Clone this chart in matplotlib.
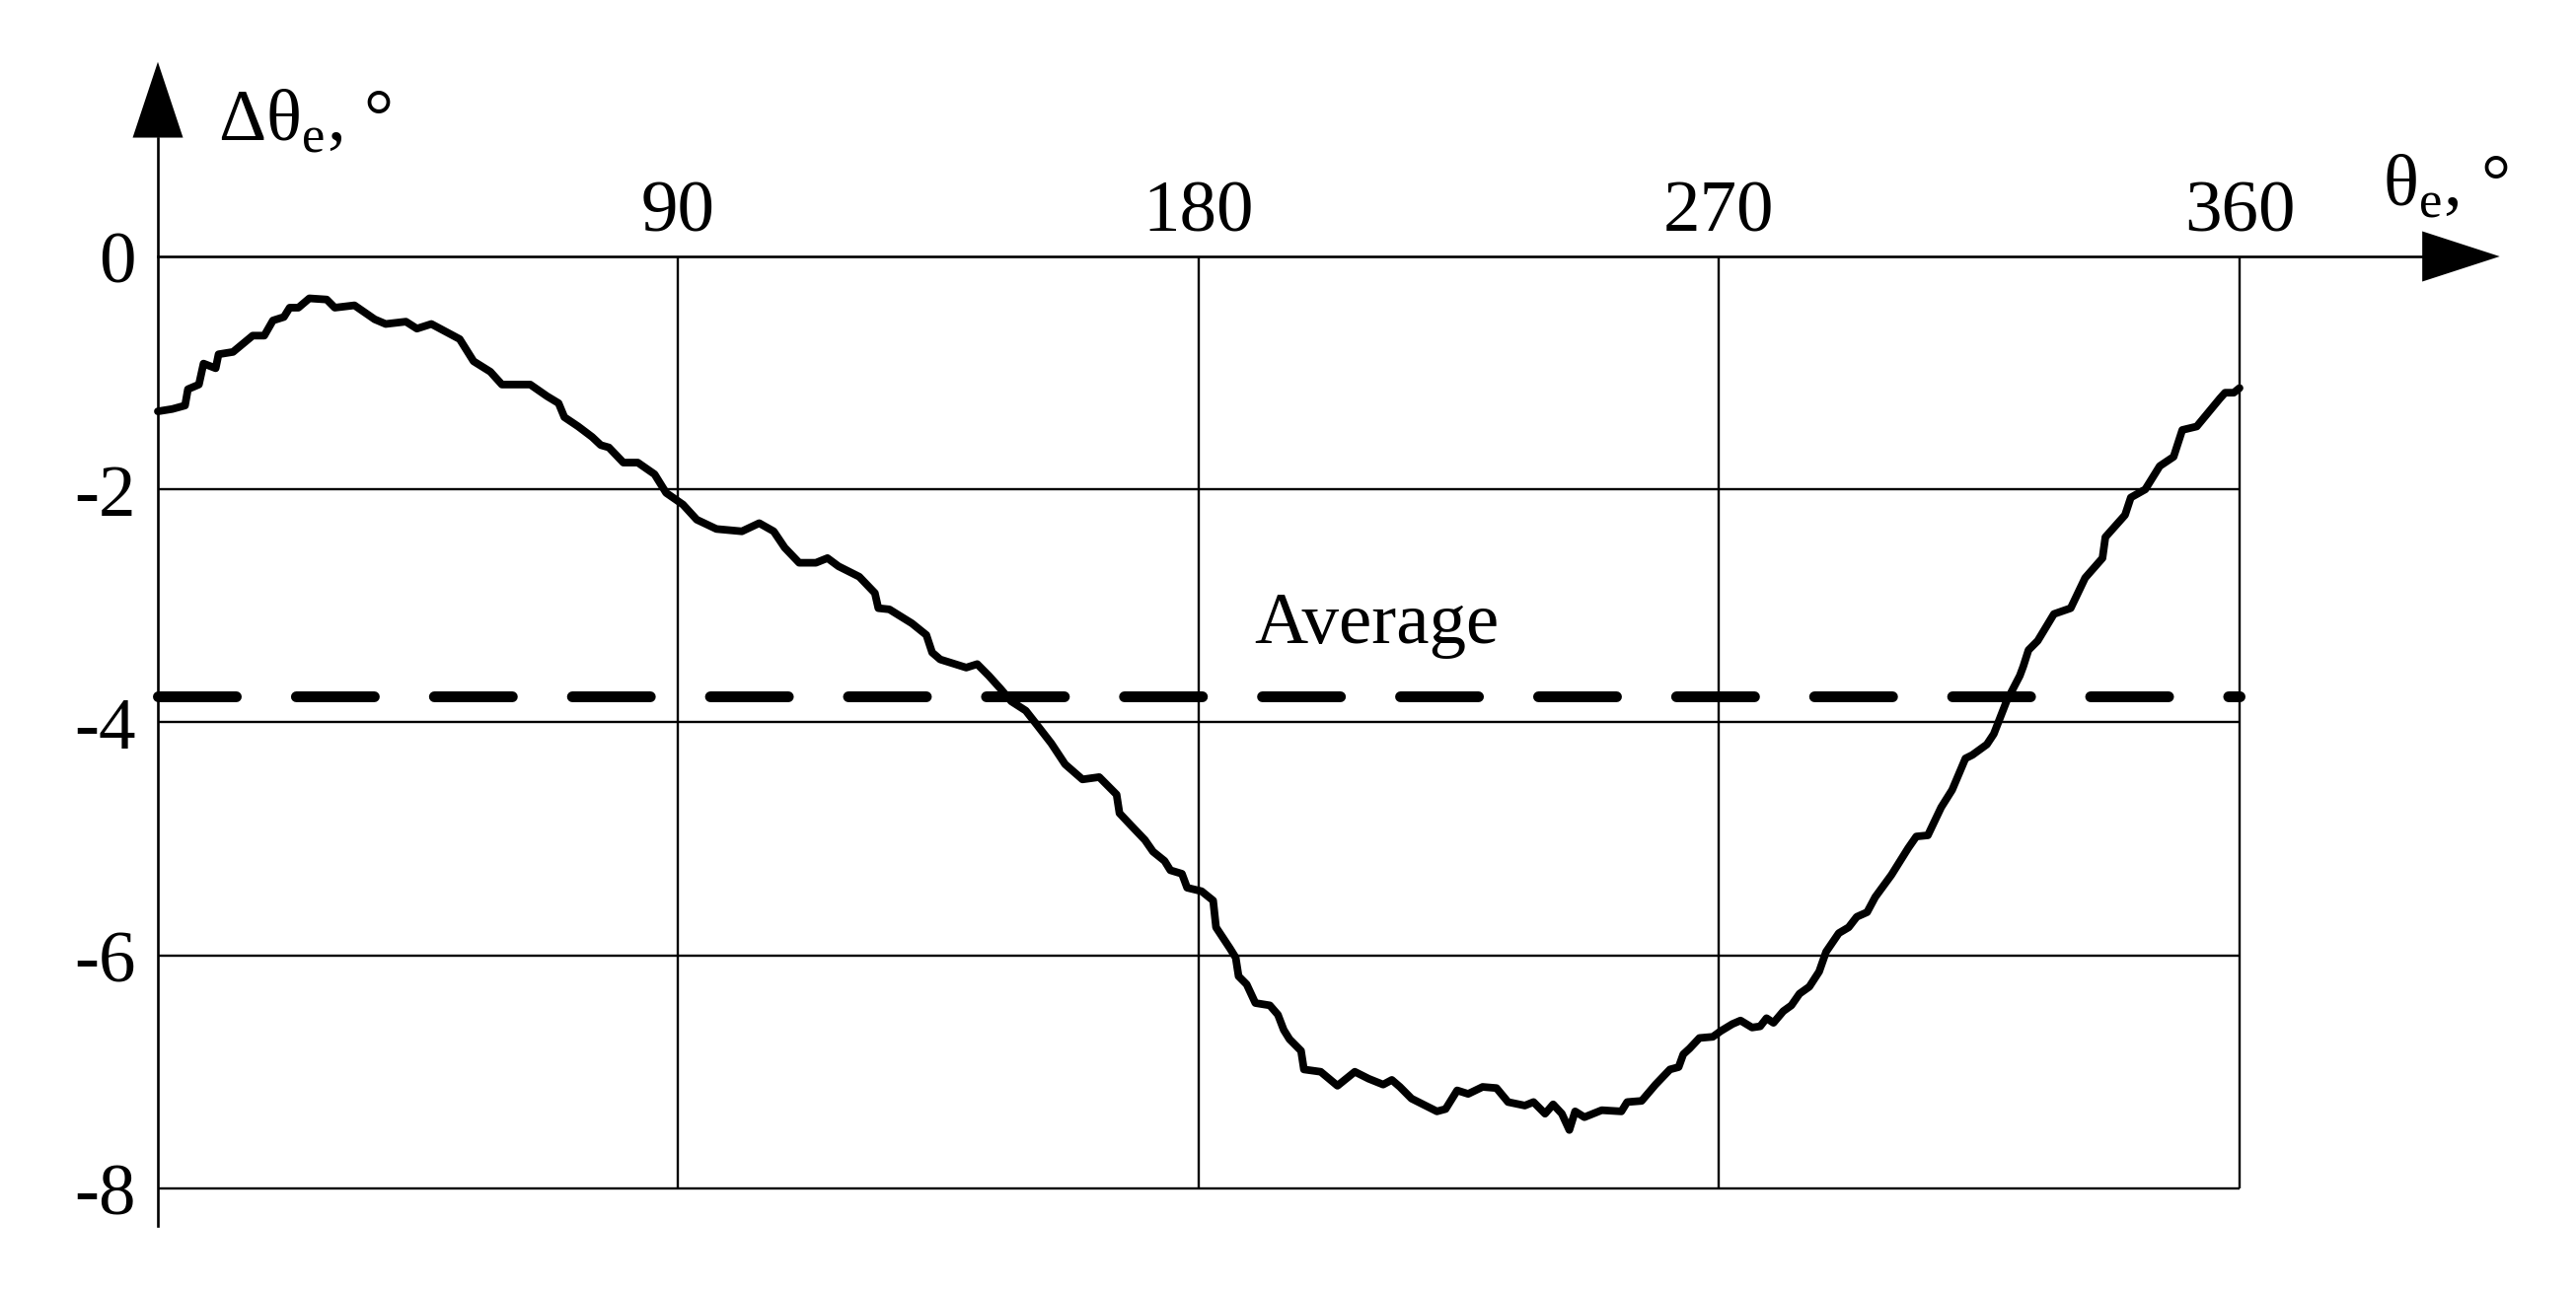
import numpy as np
import matplotlib
matplotlib.use("Agg")
import matplotlib.pyplot as plt

plt.rcParams["font.family"] = ["Liberation Serif", "DejaVu Serif"]
plt.rcParams["mathtext.fontset"] = "custom"
plt.rcParams["mathtext.rm"] = "Liberation Serif"

# %% Data
theta = [0, 2.5, 4.7, 5.2, 7.1, 7.9, 10.0, 10.5, 13.0, 16.4, 18.4, 19.9, 21.8,
         22.8, 24.3, 26.2, 29.2, 30.6, 34.0, 37.5, 39.4, 42.9, 44.8, 47.3,
         52.2, 54.6, 57.5, 59.5, 64.4, 67.3, 69.3, 70.3, 72.7, 75.1, 76.6,
         78.0, 80.5, 83.0, 85.9, 87.9, 90.8, 93.2, 96.6, 101.0, 104.0, 106.5,
         108.4, 110.9, 113.8, 115.8, 117.7, 121.3, 124.0, 124.6, 126.5, 130.4,
         132.9, 133.9, 135.3, 139.8, 141.7, 143.7, 145.7, 147.6, 150.1, 152.0,
         154.5, 156.9, 159.9, 162.8, 165.8, 166.3, 168.2, 170.7, 172.1, 174.1,
         175.1, 177.1, 178.0, 180.5, 182.5, 183.0, 185.4, 186.4, 186.9, 188.3,
         189.8, 192.3, 193.7, 194.7, 195.7, 197.7, 198.2, 201.1, 204.0, 207.0,
         209.4, 211.9, 213.4, 214.8, 216.8, 218.8, 221.2, 222.7, 224.7, 226.6,
         229.1, 231.5, 233.5, 236.4, 237.9, 239.9, 241.3, 242.8, 244.1, 245.1,
         246.7, 249.7, 253.1, 254.1, 256.6, 259.0, 261.5, 263.0, 263.8, 264.9,
         266.6, 268.9, 270.3, 272.3, 273.7, 275.7, 277.1, 278.2, 279.4, 281.1,
         282.5, 283.9, 285.6, 287.3, 288.5, 290.7, 292.4, 293.8, 295.6, 297.0,
         299.8, 302.7, 304.1, 306.1, 308.4, 310.3, 312.6, 313.8, 316.3, 317.5,
         319.7, 322.0, 322.6, 323.5, 325.1, 327.9, 330.8, 333.3, 336.3, 336.8,
         340.2, 341.2, 343.7, 346.2, 348.6, 350.1, 352.6, 356.6, 357.5, 359.0,
         360.0]
delta = [-1.33, -1.31, -1.28, -1.14, -1.10, -0.92, -0.96, -0.84, -0.82, -0.68,
         -0.68, -0.55, -0.52, -0.44, -0.44, -0.36, -0.37, -0.44, -0.42, -0.54,
         -0.58, -0.56, -0.62, -0.58, -0.71, -0.90, -0.99, -1.10, -1.10, -1.20,
         -1.26, -1.38, -1.46, -1.55, -1.62, -1.64, -1.77, -1.77, -1.87, -2.03,
         -2.13, -2.26, -2.34, -2.36, -2.29, -2.36, -2.50, -2.63, -2.63, -2.59,
         -2.66, -2.75, -2.89, -3.02, -3.03, -3.15, -3.25, -3.40, -3.46, -3.53,
         -3.50, -3.60, -3.71, -3.82, -3.90, -4.02, -4.18, -4.36, -4.49, -4.47,
         -4.62, -4.78, -4.88, -5.01, -5.11, -5.19, -5.27, -5.30, -5.42, -5.45,
         -5.53, -5.76, -5.94, -6.02, -6.18, -6.25, -6.41, -6.43, -6.51, -6.64,
         -6.72, -6.82, -6.98, -7.00, -7.12, -7.00, -7.06, -7.11, -7.07, -7.13,
         -7.23, -7.28, -7.34, -7.32, -7.16, -7.19, -7.13, -7.14, -7.26, -7.29,
         -7.26, -7.36, -7.28, -7.36, -7.50, -7.34, -7.39, -7.33, -7.34, -7.26,
         -7.25, -7.11, -6.98, -6.96, -6.85, -6.80, -6.71, -6.70, -6.65, -6.59,
         -6.56, -6.62, -6.61, -6.54, -6.58, -6.48, -6.43, -6.33, -6.27, -6.14,
         -5.97, -5.81, -5.76, -5.67, -5.63, -5.50, -5.31, -5.08, -4.98, -4.97,
         -4.73, -4.58, -4.31, -4.28, -4.19, -4.10, -3.82, -3.60, -3.52, -3.38,
         -3.30, -3.07, -3.02, -2.76, -2.59, -2.41, -2.22, -2.07, -2.00, -1.80,
         -1.72, -1.49, -1.46, -1.22, -1.17, -1.17, -1.13]
average = -3.78

x_ticks = [90, 180, 270, 360]
y_ticks = [0, -2, -4, -6, -8]
y_labels = ["0", "-2", "-4", "-6", "-8"]

# %% Figure: one axes covering the whole canvas, drawn like a hand-made chart
PX_DEG = 5.861      # pixels per degree
PX_UNIT = 118.1     # pixels per y unit
X0, Y0 = 160, 260   # pixel position of the origin
W, H = 2611, 1310

fig = plt.figure(figsize=(W / 100, H / 100), dpi=100)
ax = fig.add_axes([0, 0, 1, 1])
ax.set_xlim(-X0 / PX_DEG, (W - X0) / PX_DEG)
ax.set_ylim(-(H - Y0) / PX_UNIT, Y0 / PX_UNIT)
ax.axis("off")

FS = 54
grid_kw = dict(color="black", lw=1.7, zorder=1)

# grid
ax.hlines(y_ticks[1:], 0, x_ticks[-1], **grid_kw)
ax.vlines(x_ticks, y_ticks[-1], 0, **grid_kw)

# axes with arrows
ax.plot([0, 391.6], [0, 0], color="black", lw=1.9, zorder=2)
ax.plot([0, 0], [-8.32, 1.02], color="black", lw=1.9, zorder=2)
ax.fill([391.6, 405.0, 391.6], [0.216, 0, -0.216], color="black", lw=0, zorder=2)
ax.fill([-4.35, 0, 4.35], [1.02, 1.67, 1.02], color="black", lw=0, zorder=2)

# average (dashed) and measured curve
ax.plot([0, 360], [average, average], color="black", lw=7.9,
        dashes=(7.2, 5.55), dash_capstyle="round", zorder=3)
ax.plot(theta, delta, color="black", lw=5.6, solid_joinstyle="round",
        solid_capstyle="round", zorder=4)

# tick labels
for t in x_ticks:
    ax.text(t, 0.22, str(t), ha="center", va="baseline", fontsize=FS)
for v, lab in zip(y_ticks, y_labels):
    ax.text(-3.75, v - 0.225, lab, ha="right", va="baseline", fontsize=FS)

# axis titles and annotation
ax.text(10.4, 1.0, r"Δθ$_\mathregular{e}$, °", ha="left", va="baseline", fontsize=FS)
ax.text(384.7, 0.44, r"θ$_\mathregular{e}$, °", ha="left", va="baseline", fontsize=FS)
ax.text(189.6, -3.32, "Average", ha="left", va="baseline", fontsize=FS)

fig.savefig("out.png", dpi=100)
